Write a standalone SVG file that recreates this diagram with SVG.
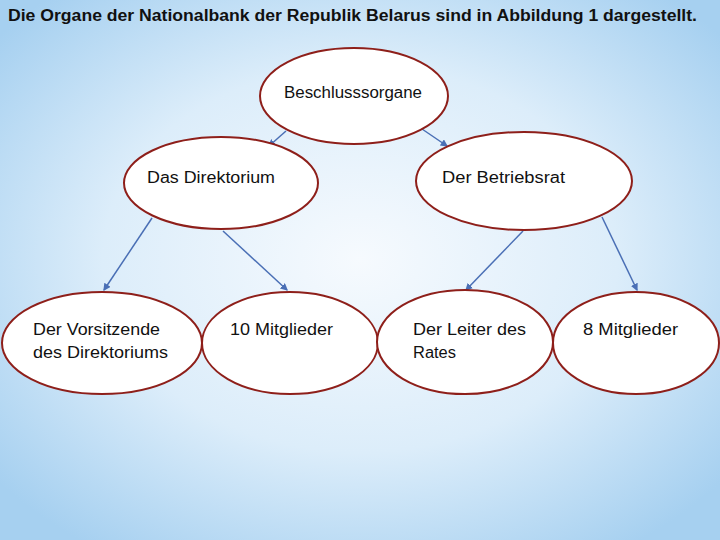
<svg xmlns="http://www.w3.org/2000/svg" width="720" height="540" viewBox="0 0 720 540">
<defs>
<radialGradient id="bg" cx="50%" cy="48%" r="65%">
<stop offset="0" stop-color="#f6fafe"/>
<stop offset="0.55" stop-color="#dcedfa"/>
<stop offset="1" stop-color="#a6d0f0"/>
</radialGradient>
<marker id="arr" viewBox="0 0 6 6" refX="5" refY="3" markerWidth="5" markerHeight="5" orient="auto">
<path d="M0,0 L6,3 L0,6 z" fill="#4a6fb5"/>
</marker>
<style>
.node ellipse{fill:#ffffff;stroke:#8e1f1a;stroke-width:2}
.lbl{font-family:"Liberation Sans","DejaVu Sans",sans-serif;font-size:16px;fill:#111}
.title{font-family:"Liberation Sans","DejaVu Sans",sans-serif;font-size:16px;font-weight:bold;fill:#111}
.conn line{stroke:#4a6fb5;stroke-width:1.5;marker-end:url(#arr)}
</style>
</defs>
<rect x="0" y="0" width="720" height="540" fill="url(#bg)"/>
<text class="title" x="8" y="21" textLength="689" lengthAdjust="spacingAndGlyphs">Die Organe der Nationalbank der Republik Belarus sind in Abbildung 1 dargestellt.</text>
<g id="connectors" class="conn">
<line x1="286" y1="131" x2="269" y2="146"/>
<line x1="422" y1="129" x2="447" y2="146"/>
<line x1="152" y1="218" x2="104" y2="290"/>
<line x1="223" y1="231" x2="287" y2="290"/>
<line x1="523" y1="231" x2="466" y2="290"/>
<line x1="602" y1="217" x2="637" y2="290"/>
</g>
<g id="beschlusssorgane" class="node">
<ellipse cx="354" cy="96" rx="94" ry="48"/>
<text class="lbl" x="284" y="98" textLength="138" lengthAdjust="spacingAndGlyphs">Beschlusssorgane</text>
</g>
<g id="direktorium" class="node">
<ellipse cx="221" cy="183" rx="97" ry="46"/>
<text class="lbl" x="147" y="183" textLength="128" lengthAdjust="spacingAndGlyphs">Das Direktorium</text>
</g>
<g id="betriebsrat" class="node">
<ellipse cx="524" cy="181" rx="108" ry="49"/>
<text class="lbl" x="442" y="183" textLength="123" lengthAdjust="spacingAndGlyphs">Der Betriebsrat</text>
</g>
<g id="vorsitzende" class="node">
<ellipse cx="102" cy="343" rx="100" ry="51"/>
<text class="lbl" x="33" y="335" textLength="127" lengthAdjust="spacingAndGlyphs">Der Vorsitzende</text>
<text class="lbl" x="33" y="358" textLength="135" lengthAdjust="spacingAndGlyphs">des Direktoriums</text>
</g>
<g id="mitglieder10" class="node">
<ellipse cx="290" cy="343" rx="88" ry="51"/>
<text class="lbl" x="230" y="335" textLength="103" lengthAdjust="spacingAndGlyphs">10 Mitglieder</text>
</g>
<g id="leiter" class="node">
<ellipse cx="465" cy="342" rx="88" ry="52"/>
<text class="lbl" x="413" y="335" textLength="113" lengthAdjust="spacingAndGlyphs">Der Leiter des</text>
<text class="lbl" x="413" y="358" textLength="43" lengthAdjust="spacingAndGlyphs">Rates</text>
</g>
<g id="mitglieder8" class="node">
<ellipse cx="636" cy="343" rx="83" ry="51"/>
<text class="lbl" x="583" y="335" textLength="95" lengthAdjust="spacingAndGlyphs">8 Mitglieder</text>
</g>
</svg>
